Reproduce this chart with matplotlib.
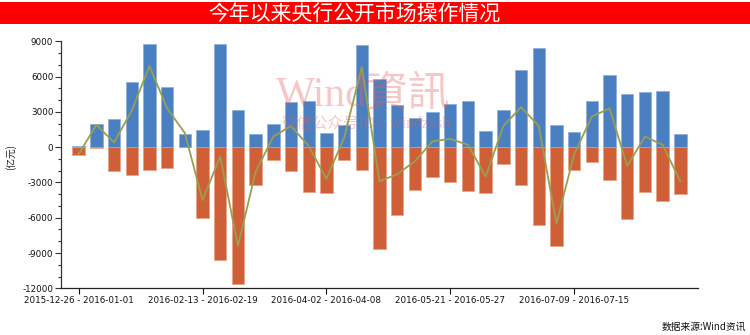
import matplotlib
matplotlib.use('Agg')
import matplotlib.pyplot as plt
from matplotlib.patches import Rectangle
from matplotlib.ticker import MultipleLocator

plt.rcParams['font.family'] = ['DejaVu Sans', 'Noto Sans CJK SC']
plt.rcParams['axes.unicode_minus'] = False

# weekly open market operations (100 million yuan)
injection = [100, 2000, 2400, 5500, 8800, 5100, 1100, 1500, 8800, 3200,
             1100, 2000, 3800, 3900, 1200, 1900, 8700, 5800, 3600, 2500,
             3000, 3700, 3900, 1400, 3200, 6600, 8400, 1900, 1300, 3900,
             6100, 4500, 4700, 4800, 1100]
withdrawal = [-700, -100, -2000, -2400, -1900, -1800, 0, -6000, -9600, -11600,
              -3200, -1100, -2000, -3800, -3900, -1100, -1900, -8700, -5800, -3600,
              -2500, -3000, -3700, -3900, -1400, -3200, -6600, -8400, -1900, -1300,
              -2800, -6100, -3800, -4600, -4000]
net = [-600, 1900, 400, 3100, 6900, 3300, 1200, -4500, -800, -8400,
       -2100, 900, 1800, 100, -2700, 800, 6800, -2900, -2300, -1200,
       500, 700, 200, -2500, 1800, 3400, 1800, -6500, -600, 2600,
       3300, -1600, 900, 200, -2900]

tick_pos = [0, 7, 14, 21, 28]
tick_labels = ['2015-12-26 - 2016-01-01', '2016-02-13 - 2016-02-19',
               '2016-04-02 - 2016-04-08', '2016-05-21 - 2016-05-27',
               '2016-07-09 - 2016-07-15']

BLUE = '#4a7fc1'
ORANGE = '#cf5f37'
OLIVE = '#9a9f50'

fig = plt.figure(figsize=(7.5, 3.35), dpi=100)
ax = fig.add_axes([0.0813, 0.1394, 0.8494, 0.7373])

x = list(range(len(injection)))
ax.bar(x, withdrawal, width=0.7, color=ORANGE, edgecolor='#e9a385', linewidth=0.6, zorder=2)
ax.bar(x, injection, width=0.7, color=BLUE, edgecolor='#8eb0dc', linewidth=0.6, zorder=2)
ax.plot(x, net, color=OLIVE, linewidth=1.3, zorder=3)

ax.set_xlim(-1, len(injection))
ax.set_ylim(-12000, 9000)
ax.yaxis.set_major_locator(MultipleLocator(3000))
ax.yaxis.set_minor_locator(MultipleLocator(1000))
ax.set_xticks(tick_pos)
ax.set_xticklabels(tick_labels, fontsize=6.3, color='#111111')
ax.tick_params(axis='y', which='major', length=4, width=0.8, pad=1.5,
               labelsize=6.3, colors='#333333', labelcolor='#111111')
ax.tick_params(axis='y', which='minor', length=2.5, width=0.8, colors='#333333')
ax.tick_params(axis='x', length=4.5, width=0.8, pad=1.2, colors='#111111')

for side in ('top', 'right'):
    ax.spines[side].set_visible(False)
ax.spines['left'].set_color('#333333')
ax.spines['bottom'].set_color('#222222')
ax.spines['left'].set_linewidth(0.9)
ax.spines['bottom'].set_linewidth(0.9)

# watermark
fig.text(0.484, 0.715, 'Wind資訊', fontsize=30, color='#e86060', alpha=0.35,
         family=['Liberation Serif', 'Noto Sans CJK TC'], ha='center', va='center', zorder=5)
fig.text(0.488, 0.63, '微信公众号ID：windzxsh', fontsize=11.2, color='#e86060', alpha=0.35,
         family=['Liberation Serif', 'Noto Sans CJK SC'], ha='center', va='center', zorder=5)

# title banner
fig.patches.append(Rectangle((0, 1 - 24 / 335), 1, 22 / 335, transform=fig.transFigure,
                             facecolor='#ff0000', edgecolor='none', zorder=0))
fig.text(0.473, 1 - 21 / 335, '今年以来央行公开市场操作情况', fontsize=15, color='white',
         family='Noto Sans CJK SC', ha='center', va='baseline')

fig.text(0.014, 1 - 157 / 335, '(亿元)', rotation=90, fontsize=7, color='#222222',
         family='Noto Sans CJK SC', ha='center', va='center')
fig.text(0.995, 1 - 327 / 335, '数据来源:Wind资讯', fontsize=7, color='#111111',
         family=['Noto Sans CJK SC', 'DejaVu Sans'], ha='right', va='center')

fig.savefig('out.png', dpi=100)
